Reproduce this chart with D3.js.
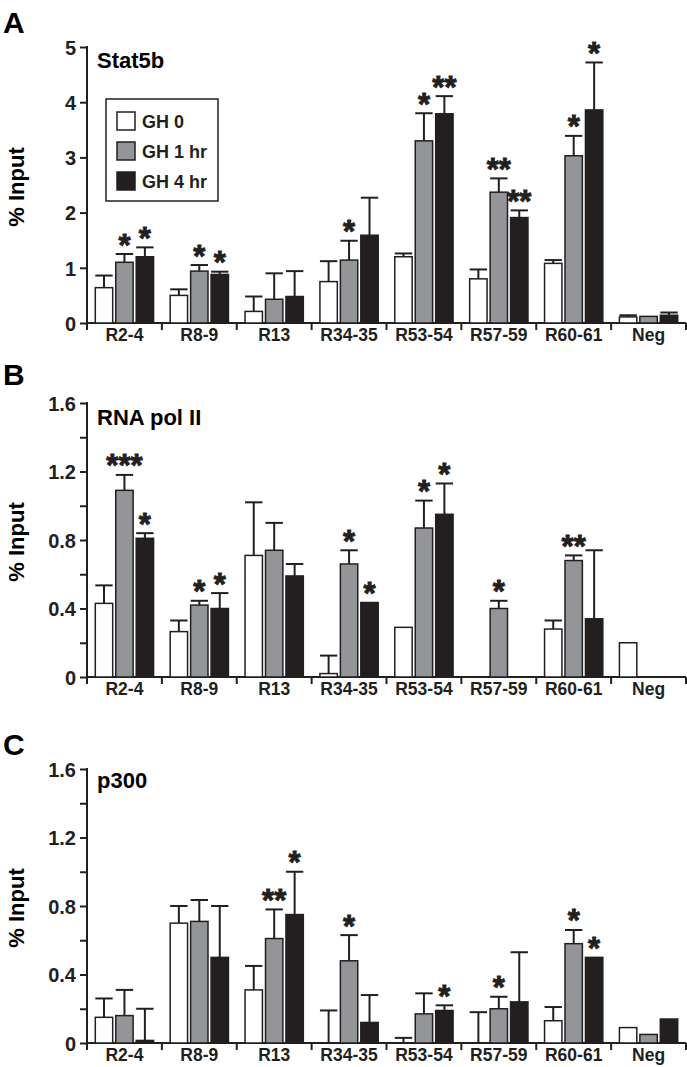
<!DOCTYPE html>
<html><head><meta charset="utf-8">
<script src="https://cdn.jsdelivr.net/npm/d3@7"></script>
<style>
html,body{margin:0;padding:0;background:#fff;}
svg{display:block;font-family:"Liberation Sans",Arial,Helvetica,sans-serif;font-weight:bold;}
</style></head>
<body><svg id="c" width="687" height="1067"></svg>
<script>
// ---------- data ----------
const categories = ["R2-4","R8-9","R13","R34-35","R53-54","R57-59","R60-61","Neg"];
const series = ["GH 0","GH 1 hr","GH 4 hr"];

// Panel A: Stat5b
const stat5bGH0 = [0.64,0.50,0.21,0.75,1.20,0.80,1.08,0.11];
const stat5bGH0Err = [0.22,0.11,0.27,0.37,0.06,0.17,0.06,0.03];
const stat5bGH1 = [1.10,0.94,0.43,1.14,3.30,2.37,3.03,0.12];
const stat5bGH1Err = [0.15,0.11,0.47,0.35,0.50,0.25,0.36,0];
const stat5bGH4 = [1.20,0.88,0.48,1.59,3.79,1.91,3.86,0.14];
const stat5bGH4Err = [0.17,0.05,0.46,0.68,0.32,0.13,0.86,0.05];
const stat5bStars1 = ["*","*","","*","*","**","*",""];
const stat5bStars4 = ["*","*","","","**","**","*",""];

// Panel B: RNA pol II
const polGH0 = [0.43,0.265,0.71,0.02,0.29,0,0.28,0.20];
const polGH0Err = [0.105,0.065,0.31,0.105,0,0,0.05,0];
const polGH1 = [1.09,0.42,0.74,0.66,0.87,0.40,0.68,0];
const polGH1Err = [0.09,0.025,0.16,0.08,0.16,0.045,0.03,0];
const polGH4 = [0.81,0.40,0.59,0.435,0.95,0,0.34,0];
const polGH4Err = [0.03,0.09,0.07,0,0.18,0,0.40,0];
const polStars1 = ["***","*","","*","*","*","**",""];
const polStars4 = ["*","*","","*","*","","",""];

// Panel C: p300
const p300GH0 = [0.15,0.70,0.31,0,0,0,0.13,0.09];
const p300GH0Err = [0.11,0.10,0.14,0.19,0.03,0.18,0.08,0];
const p300GH1 = [0.16,0.71,0.61,0.48,0.17,0.20,0.58,0.05];
const p300GH1Err = [0.15,0.125,0.17,0.15,0.12,0.07,0.08,0];
const p300GH4 = [0.015,0.50,0.75,0.12,0.19,0.24,0.50,0.14];
const p300GH4Err = [0.185,0.30,0.25,0.16,0.03,0.29,0,0];
const p300Stars1 = ["","","**","*","","*","*",""];
const p300Stars4 = ["","","*","","*","","*",""];

const majorTicksA = [0,1,2,3,4,5];
const tickLabelsA = ["0","1","2","3","4","5"];
const majorTicksBC = [0,0.4,0.8,1.2,1.6];
const tickLabelsBC = ["0","0.4","0.8","1.2","1.6"];
const minorTicksBC = [0.2,0.6,1.0,1.4];

// ---------- layout ----------
const fills = {"GH 0":"#ffffff","GH 1 hr":"#939598","GH 4 hr":"#231f20"};
const panels = [
  {letter:"A", title:"Stat5b", top:47, bottom:323, max:5, letterY:33, titleY:68,
   vals:[stat5bGH0,stat5bGH1,stat5bGH4], errs:[stat5bGH0Err,stat5bGH1Err,stat5bGH4Err],
   stars:[null,stat5bStars1,stat5bStars4], ticks:majorTicksA, labels:tickLabelsA, minor:[], legend:true},
  {letter:"B", title:"RNA pol II", top:403, bottom:677, max:1.6, letterY:385, titleY:425,
   vals:[polGH0,polGH1,polGH4], errs:[polGH0Err,polGH1Err,polGH4Err],
   stars:[null,polStars1,polStars4], ticks:majorTicksBC, labels:tickLabelsBC, minor:minorTicksBC},
  {letter:"C", title:"p300", top:769, bottom:1043, max:1.6, letterY:755, titleY:788,
   vals:[p300GH0,p300GH1,p300GH4], errs:[p300GH0Err,p300GH1Err,p300GH4Err],
   stars:[null,p300Stars1,p300Stars4], ticks:majorTicksBC, labels:tickLabelsBC, minor:minorTicksBC}
];

const svg = d3.select("#c");
const left = 87, right = 686;
const x0 = d3.scaleBand().domain(categories).range([left, right]).paddingInner(0).paddingOuter(0);
const bw = x0.bandwidth();
const x1 = d3.scaleBand().domain(series).range([8.3, bw - 8.3]).paddingInner(0.15).paddingOuter(0);

panels.forEach(p => {
  const g = svg.append("g");
  const y = d3.scaleLinear().domain([0, p.max]).range([p.bottom, p.top]);

  g.append("text").attr("x", 3).attr("y", p.letterY).attr("font-size", 30).text(p.letter);
  g.append("text").attr("x", 97).attr("y", p.titleY).attr("font-size", 22).text(p.title);
  g.append("text").attr("transform", `translate(24,${(p.top+p.bottom)/2+2}) rotate(-90)`)
    .attr("text-anchor","middle").attr("font-size", 22).text("% Input");

  // y axis
  const yAxis = d3.axisLeft(y).tickValues(p.ticks).tickFormat((d,i)=>p.labels[i]).tickSize(7).tickPadding(4);
  const ya = g.append("g").attr("transform", `translate(${left},0)`).call(yAxis);
  ya.select(".domain").remove();
  ya.selectAll("line").attr("stroke","#231f20").attr("stroke-width",2);
  ya.selectAll("text").attr("font-size",20).attr("font-family",null).attr("fill","#231f20").attr("dy","0.36em");
  const ym = d3.axisLeft(y).tickValues(p.minor).tickFormat("").tickSize(7);
  const yma = g.append("g").attr("transform", `translate(${left},0)`).call(ym);
  yma.select(".domain").remove();
  yma.selectAll("line").attr("stroke","#231f20").attr("stroke-width",2);
  g.append("line").attr("x1",left).attr("x2",left).attr("y1",y(p.max)-1).attr("y2",p.bottom+7)
    .attr("stroke","#231f20").attr("stroke-width",2);

  // x axis
  g.append("line").attr("x1",left).attr("x2",right).attr("y1",p.bottom).attr("y2",p.bottom)
    .attr("stroke","#231f20").attr("stroke-width",2);
  const bounds = categories.map(c => x0(c)).concat([right]);
  g.selectAll(".bt").data(bounds).enter().append("line")
    .attr("x1",d=>d).attr("x2",d=>d).attr("y1",p.bottom).attr("y2",p.bottom+7)
    .attr("stroke","#231f20").attr("stroke-width",2);
  g.selectAll(".xl").data(categories).enter().append("text")
    .attr("x",d=>x0(d)+bw/2).attr("y",p.bottom+18).attr("text-anchor","middle")
    .attr("font-size",17.5).attr("fill","#231f20").text(d=>d);

  // bars
  series.forEach((s, si) => {
    const vals = p.vals[si], errs = p.errs[si], stars = p.stars[si];
    const data = categories.map((c,i)=>({c, v:vals[i], e:errs[i], st: stars ? stars[i] : ""}));
    const bx = d => x0(d.c) + x1(s);
    const cx = d => bx(d) + x1.bandwidth()/2;
    // error bars
    const ed = data.filter(d=>d.e>0);
    g.selectAll(null).data(ed).enter().append("line")
      .attr("x1",cx).attr("x2",cx).attr("y1",d=>y(d.v)).attr("y2",d=>y(d.v+d.e))
      .attr("stroke","#231f20").attr("stroke-width",2);
    g.selectAll(null).data(ed).enter().append("line")
      .attr("x1",d=>cx(d)-x1.bandwidth()/2).attr("x2",d=>cx(d)+x1.bandwidth()/2)
      .attr("y1",d=>y(d.v+d.e)).attr("y2",d=>y(d.v+d.e))
      .attr("stroke","#231f20").attr("stroke-width",2);
    // bars
    g.selectAll(null).data(data.filter(d=>d.v>0)).enter().append("rect")
      .attr("x",bx).attr("y",d=>y(d.v)).attr("width",x1.bandwidth()).attr("height",d=>p.bottom-y(d.v))
      .attr("fill",fills[s]).attr("stroke","#231f20").attr("stroke-width",1.5);
    // stars
    g.selectAll(null).data(data.filter(d=>d.st)).enter().append("text")
      .attr("x",cx).attr("y",d=>y(d.v+d.e)+1.5).attr("text-anchor","middle")
      .attr("font-size",31).attr("fill","#231f20").attr("stroke","#231f20").attr("stroke-width",0.9)
      .text(d=>d.st);
  });

  if (p.legend) {
    const lg = g.append("g");
    lg.append("rect").attr("x",106).attr("y",99).attr("width",112).attr("height",102)
      .attr("fill","#fff").attr("stroke","#231f20").attr("stroke-width",1.5);
    series.forEach((s,i)=>{
      lg.append("rect").attr("x",117).attr("y",112+i*30).attr("width",18).attr("height",18)
        .attr("fill",fills[s]).attr("stroke","#231f20").attr("stroke-width",1.5);
      lg.append("text").attr("x",142).attr("y",128+i*30).attr("font-size",18).attr("fill","#231f20").text(s);
    });
  }
});
</script></body></html>
